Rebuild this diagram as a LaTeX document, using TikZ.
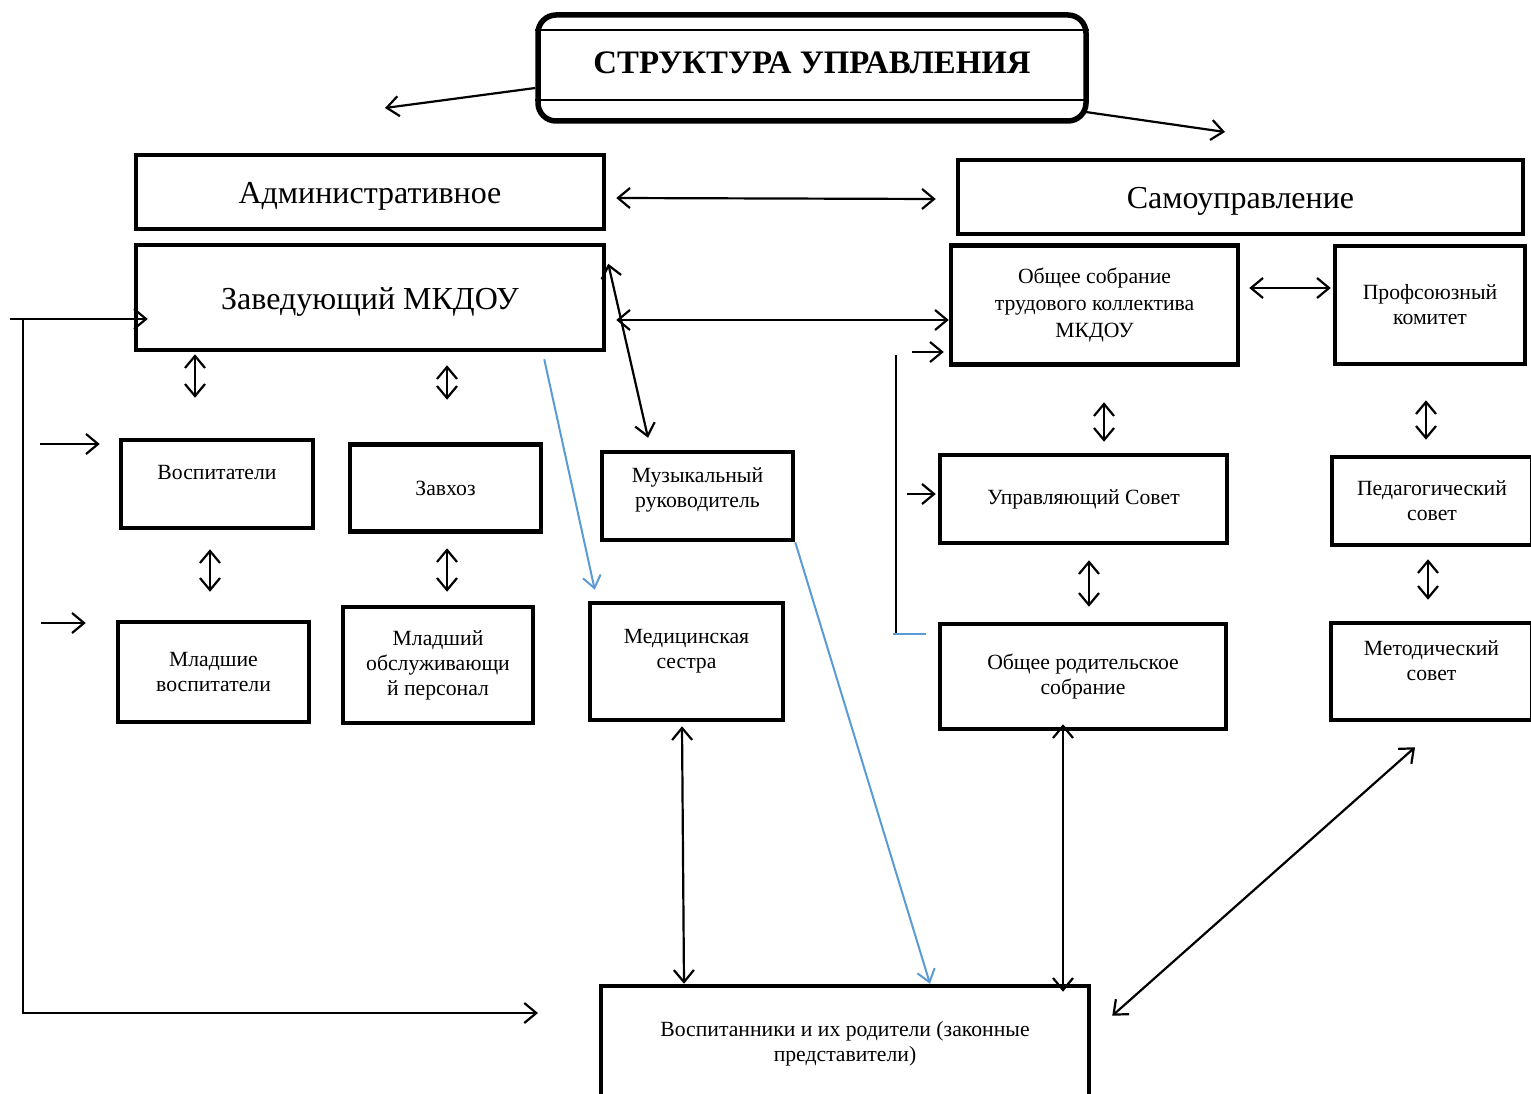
\documentclass[tikz,border=0pt]{standalone}
\usepackage{fontspec}
\setmainfont{Liberation Serif}
\usetikzlibrary{arrows.meta,calc}
\definecolor{bl}{HTML}{5B9BD5}
\begin{document}
\begin{tikzpicture}[x=1pt,y=-1pt,
 bx/.style={draw, line width=4.5pt, inner sep=0pt, align=center, font=\fontsize{21.7}{25}\selectfont},
 big/.style={font=\fontsize{32}{36}\selectfont, text height=23pt, text depth=0pt},
 lbl/.style={font=\fontsize{21.7}{25}\selectfont, align=center, inner sep=0pt},
 ar/.style={line width=2.2pt, -{Straight Barb[length=12pt,width=20pt]}},
 dar/.style={line width=2.2pt, {Straight Barb[length=12pt,width=20pt]}-{Straight Barb[length=12pt,width=20pt]}},
 bar/.style={line width=2pt, draw=bl, -{Straight Barb[length=12pt,width=18pt]}},
]
\useasboundingbox (0,0) rectangle (1531,1094);

% nodes
\node[bx, line width=5.5pt, rounded corners=18pt, minimum width=548pt, minimum height=106pt,
      font=\bfseries\fontsize{32.8}{36}\selectfont, text height=22pt, text depth=10pt] (title) at (812,68) {СТРУКТУРА УПРАВЛЕНИЯ};
\node[bx, big, minimum width=468pt, minimum height=74pt] (adm) at (370,192) {Административное};
\node[bx, big, minimum width=565pt, minimum height=74pt] (sam) at (1240.5,197) {Самоуправление};
\node[bx, big, minimum width=468pt, minimum height=105pt] (zav) at (370,297.5) {Заведующий МКДОУ};
\node[bx, minimum width=192pt, minimum height=88pt, label={[lbl,yshift=12pt]center:Воспитатели}] (vos) at (217,484) {};
\node[bx, minimum width=191pt, minimum height=87pt] (zah) at (445.5,488) {Завхоз};
\node[bx, minimum width=191pt, minimum height=88pt, label={[lbl,yshift=6pt]center:{Музыкальный\\руководитель}}] (muz) at (697.5,496) {};
\node[bx, minimum width=191pt, minimum height=100pt] (mlv) at (213.5,672) {Младшие\\воспитатели};
\node[bx, minimum width=190pt, minimum height=116pt] (mop) at (438,665) {Младший\\обслуживающи\\й персонал};
\node[bx, minimum width=193pt, minimum height=117pt, label={[lbl,yshift=10pt]center:{Медицинская\\сестра}}] (med) at (686.5,661.5) {};
\node[bx, minimum width=488pt, minimum height=115pt] (vsp) at (845,1043.5) {Воспитанники и их родители (законные\\представители)};
\node[bx, minimum width=287pt, minimum height=119pt, font=\fontsize{21.7}{27}\selectfont] (obs) at (1094.5,305) {Общее собрание\\трудового коллектива\\МКДОУ};
\node[bx, minimum width=190pt, minimum height=118pt] (prof) at (1430,305) {Профсоюзный\\комитет};
\node[bx, minimum width=287pt, minimum height=88pt] (upr) at (1083.5,499) {Управляющий Совет};
\node[bx, minimum width=286pt, minimum height=105pt] (opr) at (1083,676.5) {Общее родительское\\собрание};
\node[bx, minimum width=200pt, minimum height=88pt] (ped) at (1432,501) {Педагогический\\совет};
\node[bx, minimum width=201pt, minimum height=97pt, label={[lbl,yshift=10.5pt]center:{Методический\\совет}}] (met) at (1431.5,671.5) {};

% title inner lines
\draw[line width=2pt] ([yshift=-18pt]title.north west) -- ([yshift=-18pt]title.north east);
\draw[line width=2pt] ([yshift=24pt]title.south west) -- ([yshift=24pt]title.south east);

% free ends
\coordinate (tl) at (385,108);
\coordinate (tr) at (1225,132);
\coordinate (l0) at (10,319);
\coordinate (l1) at (23,319);
\coordinate (l2) at (538,1013);
\coordinate (a1) at (40,444);
\coordinate (a2) at (41,623);
\coordinate (r0) at (912,352);
\coordinate (r1) at (896,355);
\coordinate (r2) at (896,635);
\coordinate (r3) at (893,634);
\coordinate (r4) at (907,494);

% connectors
\draw[ar] ([yshift=-20pt]title.west) -- (tl);
\draw[ar] ([xshift=-3pt,yshift=-44pt]title.east) -- (tr);
\draw[dar] ([xshift=10pt,yshift=-6pt]adm.east) -- ([xshift=-20pt,yshift=-2pt]sam.west);
\draw[dar] ([xshift=10pt,yshift=-22.5pt]zav.east) -- ([yshift=-15pt]obs.west);
\draw[dar] ([xshift=2pt,yshift=-21pt]zav.north east) -- ([xshift=-49.5pt,yshift=12pt]muz.north);
\draw[ar] (l0) -- ([xshift=14pt,yshift=-21.5pt]zav.west);
\draw[ar] (l1) |- (l2);
\draw[ar] (a1) -- ([xshift=-19pt,yshift=40pt]vos.west);
\draw[ar] (a2) -- ([xshift=-30pt,yshift=49pt]mlv.west);
\draw[dar] ([xshift=-175pt,yshift=-2pt]zav.south) -- ([xshift=-22pt,yshift=40pt]vos.north);
\draw[dar] ([xshift=77pt,yshift=-13pt]zav.south) -- ([xshift=1.5pt,yshift=42.5pt]zah.north);
\draw[dar] ([xshift=-7pt,yshift=-19pt]vos.south) -- ([xshift=-3.5pt,yshift=28pt]mlv.north);
\draw[dar] ([xshift=1.5pt,yshift=-14.5pt]zah.south) -- ([xshift=9pt,yshift=13pt]mop.north);
\draw[bar] ([xshift=-62pt,yshift=-7pt]zav.south east) -- ([xshift=7pt,yshift=11pt]med.north west);
\draw[dar] ([xshift=-4.5pt,yshift=-4pt]med.south) -- ([xshift=-161pt]vsp.north);
\draw[bar] (muz.south east) -- ([xshift=85pt]vsp.north);
\draw[ar] (r0) -- ([xshift=-5pt,yshift=-47pt]obs.west);
\draw[line width=1.5pt] (r1) -- (r2);
\draw[line width=1.5pt, bl] (r3) -- ([xshift=-12pt,yshift=42.5pt]opr.west);
\draw[ar] (r4) -- ([xshift=-2pt,yshift=5pt]upr.west);
\draw[dar] ([xshift=9pt,yshift=17pt]obs.east) -- ([xshift=-2pt,yshift=17pt]prof.west);
\draw[dar] ([xshift=9.5pt,yshift=-35.5pt]obs.south) -- ([xshift=20.5pt,yshift=11pt]upr.north);
\draw[dar] ([xshift=5.5pt,yshift=-15pt]upr.south) -- ([xshift=6pt,yshift=15pt]opr.north);
\draw[dar] ([xshift=-20pt,yshift=7pt]opr.south) -- ([xshift=218pt,yshift=-8pt]vsp.north);
\draw[dar] ([xshift=-4pt,yshift=-34pt]prof.south) -- ([xshift=-6pt,yshift=15pt]ped.north);
\draw[dar] ([xshift=-4pt,yshift=-12pt]ped.south) -- ([xshift=-3.5pt,yshift=21pt]met.north);
\draw[dar] ([xshift=-16.5pt,yshift=-25pt]met.south) -- ([xshift=21pt,yshift=-32pt]vsp.north east);
\end{tikzpicture}
\end{document}
